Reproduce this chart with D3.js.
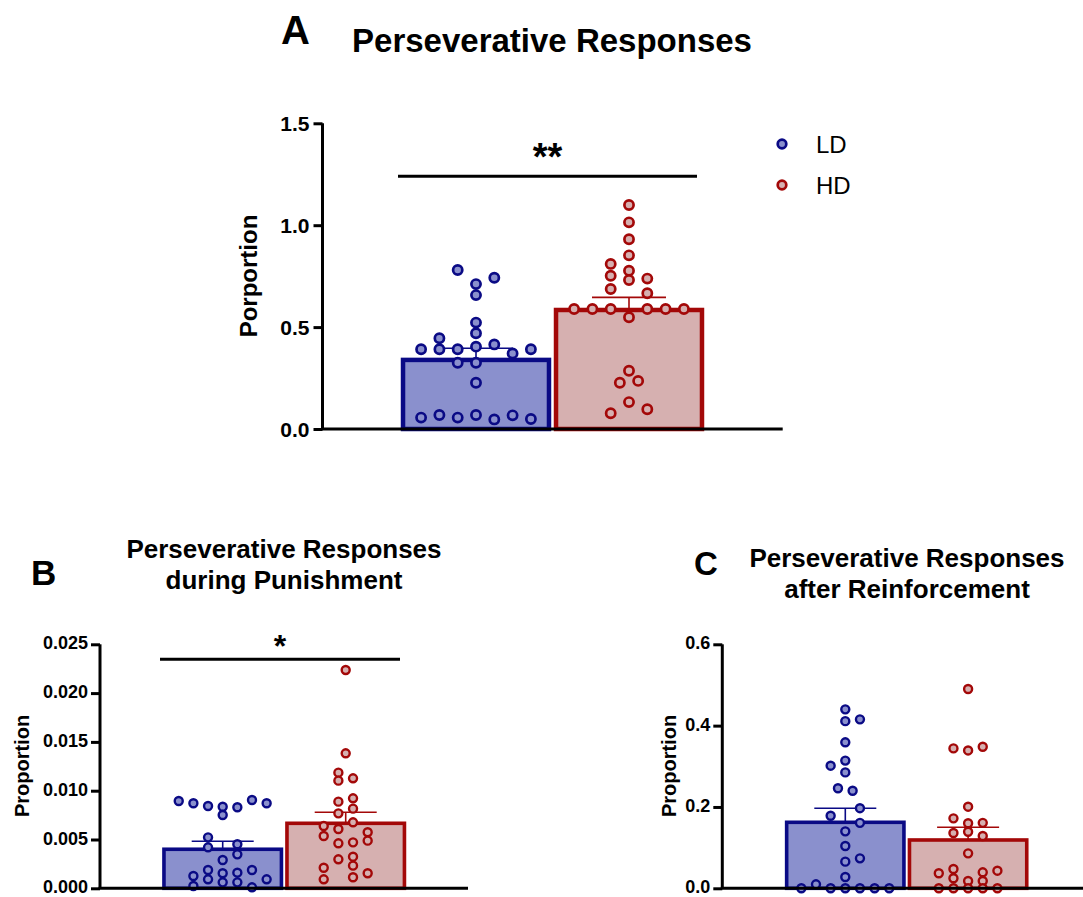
<!DOCTYPE html>
<html>
<head>
<meta charset="utf-8">
<script src="https://cdn.jsdelivr.net/npm/d3@7/dist/d3.min.js"></script>
<style>
  html, body { margin: 0; padding: 0; background: #ffffff; }
  svg { display: block; font-family: "Liberation Sans", Arial, sans-serif; }
</style>
</head>
<body>
<svg id="chart" width="1083" height="897"></svg>
<script>
// ---- data ----
const groups = ["LD", "HD"];

// A: perseverative responses (proportion)
const totalMean = [0.339, 0.584];
const totalSem = [0.057, 0.062];
const totalLD = [0.780, 0.711, 0.742, 0.657, 0.522, 0.470, 0.445, 0.391, 0.391, 0.391, 0.404, 0.415, 0.371, 0.391,
                 0.325, 0.325, 0.227, 0.056, 0.069, 0.056, 0.069, 0.047, 0.067, 0.049];
const totalLDSlot = [-1, 0, 1, 0, 0, 0, -2, -3, -2, -1, 0, 1, 2, 3, -1, 0, 0, -3, -2, -1, 0, 1, 2, 3];
const totalHD = [1.099, 1.014, 0.931, 0.852, 0.810, 0.752, 0.777, 0.731, 0.738, 0.687, 0.666,
                 0.589, 0.589, 0.589, 0.589, 0.589, 0.589, 0.548, 0.286, 0.227, 0.236, 0.132, 0.077, 0.097];
const totalHDSlot = [0, 0, 0, 0, -1, -1, 0, 0, 1, -1, 1, -3, -2, -1, 1, 2, 3, 0, 0, -0.5, 0.5, 0, -1, 1];
const totalTicks = [0, 0.5, 1.0, 1.5];
const totalSig = { level: 1.24, label: "**" };

// B: perseverative responses during punishment
const punishMean = [0.0040, 0.00666];
const punishSem = [0.00082, 0.00113];
const punishLD = [0.00894, 0.00871, 0.00843, 0.00836, 0.00751, 0.00830, 0.00905, 0.00871, 0.00522, 0.00420, 0.00451, 0.00348,
                  0.00290, 0.00126, 0.00188, 0.00154, 0.00160, 0.00188, 0.00024, 0.00092, 0.00061, 0.00061, 0.00010, 0.00092];
const punishLDSlot = [-3, -2, -1, 0, 0, 1, 2, 3, -1, -1, 1, 1, 0, -2, -1, 0, 1, 2, -2, -1, 0, 1, 2, 3];
const punishHD = [0.02237, 0.01383, 0.01185, 0.01103, 0.01127, 0.00888, 0.00922, 0.00816, 0.00768, 0.00676, 0.00638, 0.00608,
                  0.00536, 0.00574, 0.00488, 0.00461, 0.00471, 0.00297, 0.00324, 0.00232, 0.00211, 0.00092, 0.00113, 0.00154];
const punishHDSlot = [0, 0, -0.5, -0.5, 0.5, -0.5, 0.5, 0.5, -0.5, 0.5, -1.5, -0.5,
                      -1.5, 1.5, 1.5, -0.5, 0.5, -0.5, 0.5, 0.5, -1.5, -1.5, 0.5, 1.5];
const punishTicks = [0, 0.005, 0.010, 0.015, 0.020, 0.025];
const punishSig = { level: 0.02346, label: "*" };

// C: perseverative responses after reinforcement
const reinfMean = [0.1623, 0.1188];
const reinfSem = [0.0344, 0.0312];
const reinfLD = [0.440, 0.411, 0.4155, 0.359, 0.314, 0.3015, 0.285, 0.246, 0.240, 0.197, 0.1785, 0.161,
                 0.140, 0.104, 0.0655, 0.0737, 0.0279, 0.0098, 0, 0, 0, 0, 0, 0];
const reinfLDSlot = [0, 0, 1, 0, 0, -1, 0, -0.5, 0.5, 1, -1, 1, 0, 0, 0, 1, 0, -2, -3, -1, 0, 1, 2, 3];
const reinfHD = [0.490, 0.344, 0.339, 0.348, 0.2007, 0.172, 0.160, 0.161, 0.136, 0.139, 0.1286, 0.086,
                 0.0369, 0.0475, 0.0393, 0.0433, 0.0246, 0.018, 0.018, 0, 0, 0, 0, 0];
const reinfHDSlot = [0, -1, 0, 1, 0, -1, 0, 1, -1, 0, 1, 0, -2, -1, 1, 2, -1, 0, 1, -2, -1, 0, 1, 2];
const reinfTicks = [0, 0.2, 0.4, 0.6];

// ---- styling ----
const stroke = { LD: "#0a0a85", HD: "#a30808" };
const fill = { LD: "#8a90cd", HD: "#d6b0b0" };
const FONT = "'Liberation Sans', Arial, sans-serif";

const svg = d3.select("#chart");

function drawPanel(cfg) {
  const g = svg.append("g");
  const y = d3.scaleLinear().domain(cfg.yDomain).range(cfg.yRange);
  const x = d3.scaleBand().domain(groups).range(cfg.xBand).paddingInner(cfg.padInner).paddingOuter(cfg.padOuter);
  const y0 = y(0);

  // bars
  g.selectAll("rect.bar").data(groups).join("rect")
    .attr("class", "bar")
    .attr("x", d => x(d))
    .attr("width", x.bandwidth())
    .attr("y", (d, i) => y(cfg.means[i]))
    .attr("height", (d, i) => y0 - y(cfg.means[i]))
    .attr("fill", d => fill[d])
    .attr("stroke", d => stroke[d])
    .attr("stroke-width", cfg.barStroke);

  // error bars (upper SEM)
  groups.forEach((d, i) => {
    const cx = x(d) + x.bandwidth() / 2;
    const top = y(cfg.means[i] + cfg.sems[i]);
    g.append("line").attr("x1", cx).attr("x2", cx)
      .attr("y1", y(cfg.means[i])).attr("y2", top)
      .attr("stroke", stroke[d]).attr("stroke-width", 1.6);
    g.append("line").attr("x1", cx - cfg.capHalf).attr("x2", cx + cfg.capHalf)
      .attr("y1", top).attr("y2", top)
      .attr("stroke", stroke[d]).attr("stroke-width", 1.6);
  });

  // individual subjects
  groups.forEach((d, i) => {
    const cx = x(d) + x.bandwidth() / 2;
    const vals = cfg.points[i], slots = cfg.slots[i];
    g.selectAll("circle.pt-" + d).data(vals).join("circle")
      .attr("class", "pt-" + d)
      .attr("cx", (v, k) => cx + slots[k] * cfg.slotStep)
      .attr("cy", v => y(v))
      .attr("r", cfg.r)
      .attr("fill", fill[d])
      .attr("stroke", stroke[d])
      .attr("stroke-width", cfg.ptStroke);
  });

  // y axis
  const yAxis = d3.axisLeft(y).tickValues(cfg.ticks).tickFormat(d3.format(cfg.fmt))
    .tickSize(cfg.tickLen).tickPadding(cfg.tickPad).tickSizeOuter(0);
  const ya = g.append("g").attr("transform", `translate(${cfg.axisX},0)`).call(yAxis);
  ya.select(".domain").attr("stroke", "#000").attr("stroke-width", cfg.axisStroke)
    .attr("d", `M0,${y0}V${y(cfg.yDomain[1])}`);
  ya.selectAll(".tick line").attr("stroke", "#000").attr("stroke-width", cfg.axisStroke);
  ya.selectAll(".tick text").attr("font-family", FONT).attr("font-weight", "bold")
    .attr("font-size", cfg.tickFont).attr("fill", "#000").attr("dy", cfg.tickDy);

  // x axis baseline
  g.append("line").attr("x1", cfg.axisX - cfg.axisStroke / 2).attr("x2", cfg.xEnd)
    .attr("y1", y0).attr("y2", y0).attr("stroke", "#000").attr("stroke-width", cfg.axisStroke);

  // y axis title
  g.append("text")
    .attr("transform", `translate(${cfg.yTitlePos[0]},${cfg.yTitlePos[1]}) rotate(-90)`)
    .attr("text-anchor", "middle").attr("dominant-baseline", "central")
    .attr("font-family", FONT).attr("font-weight", "bold").attr("font-size", cfg.yTitleFont)
    .text(cfg.yTitle);

  // significance bracket
  if (cfg.sig) {
    const sy = y(cfg.sig.level);
    g.append("line").attr("x1", cfg.sigX[0]).attr("x2", cfg.sigX[1]).attr("y1", sy).attr("y2", sy)
      .attr("stroke", "#000").attr("stroke-width", 3);
    g.append("text").attr("x", (cfg.sigX[0] + cfg.sigX[1]) / 2).attr("y", sy + cfg.starDy)
      .attr("text-anchor", "middle").attr("font-family", FONT).attr("font-weight", "bold")
      .attr("font-size", cfg.starFont).text(cfg.sig.label);
  }
  return g;
}

// Panel A
drawPanel({
  yDomain: [0, 1.5], yRange: [429, 123.3],
  xBand: [399.5, 705.5], padInner: 0.046, padOuter: 0.023,
  means: totalMean, sems: totalSem,
  points: [totalLD, totalHD], slots: [totalLDSlot, totalHDSlot],
  slotStep: 18.3, r: 4.6, ptStroke: 2.7, barStroke: 4.5, capHalf: 37,
  ticks: totalTicks, fmt: ".1f", tickLen: 9, tickPad: 4, tickFont: 21, tickDy: "0.34em",
  axisX: 322.5, xEnd: 782.7, axisStroke: 3,
  yTitle: "Porportion", yTitlePos: [248, 276], yTitleFont: 24,
  sig: totalSig, sigX: [398, 697], starDy: -6, starFont: 38
});

// Panel B
drawPanel({
  yDomain: [0, 0.025], yRange: [888.3, 644.3],
  xBand: [161.5, 406.9], padInner: 0.045, padOuter: 0.02,
  means: punishMean, sems: punishSem,
  points: [punishLD, punishHD], slots: [punishLDSlot, punishHDSlot],
  slotStep: 14.65, r: 4.0, ptStroke: 2.4, barStroke: 3.6, capHalf: 31,
  ticks: punishTicks, fmt: ".3f", tickLen: 9, tickPad: 3, tickFont: 18, tickDy: "0.26em",
  axisX: 100, xEnd: 468, axisStroke: 3,
  yTitle: "Proportion", yTitlePos: [22, 766], yTitleFont: 20,
  sig: punishSig, sigX: [160, 400], starDy: -2, starFont: 32
});

// Panel C
drawPanel({
  yDomain: [0, 0.6], yRange: [888.3, 644.3],
  xBand: [784.2, 1029.2], padInner: 0.045, padOuter: 0.02,
  means: reinfMean, sems: reinfSem,
  points: [reinfLD, reinfHD], slots: [reinfLDSlot, reinfHDSlot],
  slotStep: 14.65, r: 4.0, ptStroke: 2.4, barStroke: 3.6, capHalf: 31,
  ticks: reinfTicks, fmt: ".1f", tickLen: 9, tickPad: 3, tickFont: 18, tickDy: "0.26em",
  axisX: 722.3, xEnd: 1083, axisStroke: 3,
  yTitle: "Proportion", yTitlePos: [669, 766], yTitleFont: 20,
  sig: null
});

// titles and panel letters
function label(x, y, size, text, anchor, weight) {
  svg.append("text").attr("x", x).attr("y", y).attr("text-anchor", anchor || "start")
    .attr("font-family", FONT).attr("font-weight", weight || "bold").attr("font-size", size).text(text);
}
label(281, 44, 40, "A");
label(552, 52, 33, "Perseverative Responses", "middle");
label(31, 585, 35, "B");
label(284, 558, 26, "Perseverative Responses", "middle");
label(284, 589, 26, "during Punishment", "middle");
label(694, 575, 33, "C");
label(907, 566.5, 26, "Perseverative Responses", "middle");
label(907, 598, 26, "after Reinforcement", "middle");

// legend
const legendRows = [{ key: "LD", y: 144 }, { key: "HD", y: 185 }];
const leg = svg.append("g");
leg.selectAll("circle").data(legendRows).join("circle")
  .attr("cx", 782).attr("cy", d => d.y).attr("r", 4.3)
  .attr("fill", d => fill[d.key]).attr("stroke", d => stroke[d.key]).attr("stroke-width", 2.7);
leg.selectAll("text").data(legendRows).join("text")
  .attr("x", 816).attr("y", d => d.y + 9)
  .attr("font-family", FONT).attr("font-size", 24).text(d => d.key);
</script>
</body>
</html>
